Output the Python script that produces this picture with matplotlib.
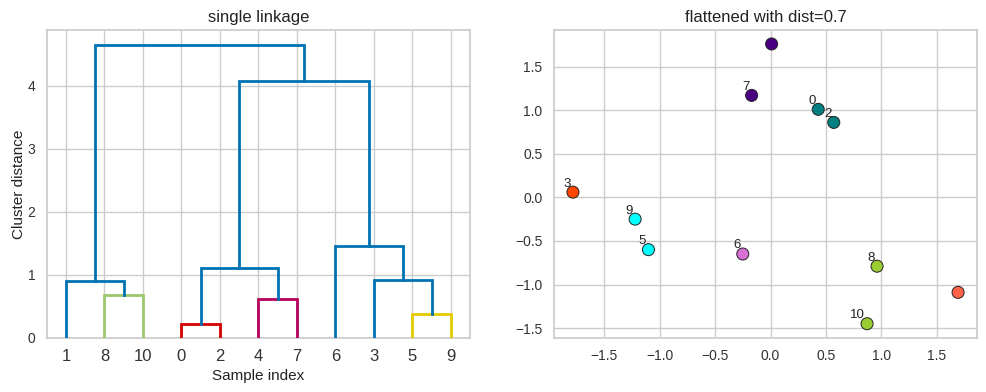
import matplotlib
matplotlib.use("Agg")
import matplotlib.pyplot as plt
import numpy as np

# ------------------------------------------------------------
# data
# ------------------------------------------------------------
# dendrogram leaf order (sample indices) and merges
leaf_labels = ["1", "8", "10", "0", "2", "4", "7", "6", "3", "5", "9"]
# each merge: (left child, right child, height, colour key)
# children: leaf position index (int) or previous merge id ("m<k>")
merges = [
    (1, 2, 0.68, "green"),       # m0: 8-10
    (0, "m0", 0.90, "blue"),     # m1: 1 + [8,10]
    (3, 4, 0.21, "red"),         # m2: 0-2
    (5, 6, 0.62, "magenta"),     # m3: 4-7
    ("m2", "m3", 1.10, "blue"),  # m4
    (9, 10, 0.38, "yellow"),     # m5: 5-9
    (8, "m5", 0.915, "blue"),    # m6: 3 + [5,9]
    (7, "m6", 1.45, "blue"),     # m7: 6 + ...
    ("m4", "m7", 4.08, "blue"),  # m8
    ("m1", "m8", 4.65, "blue"),  # m9
]
link_colors = {"blue": "#0072B2", "green": "#9CC86C", "red": "#D50000",
               "magenta": "#B5005B", "yellow": "#E2CC00"}

# scatter points (sample index -> x, y, colour)
pt_x = [0.43, 1.69, 0.57, -1.78, 0.01, -1.10, -0.25, -0.17, 0.96, -1.22, 0.87]
pt_y = [1.01, -1.09, 0.86, 0.06, 1.76, -0.60, -0.65, 1.17, -0.79, -0.25, -1.45]
pt_colors = ["teal", "tomato", "teal", "orangered", "indigo", "cyan",
             "orchid", "indigo", "yellowgreen", "cyan", "yellowgreen"]
shown_labels = [0, 2, 3, 5, 6, 7, 8, 9, 10]

# ------------------------------------------------------------
# style
# ------------------------------------------------------------
plt.rcParams["font.family"] = ["Liberation Sans", "DejaVu Sans"]
plt.rcParams["axes.edgecolor"] = "#cccccc"
plt.rcParams["axes.linewidth"] = 1.25
plt.rcParams["grid.color"] = "#cccccc"
plt.rcParams["xtick.color"] = "#333333"
plt.rcParams["ytick.color"] = "#333333"
plt.rcParams["text.color"] = "#222222"
plt.rcParams["axes.labelcolor"] = "#222222"

fig = plt.figure(figsize=(9.87, 3.92), dpi=100)
ax1 = fig.add_axes([0.0473, 0.1385, 0.4289, 0.785])
ax2 = fig.add_axes([0.561, 0.1385, 0.4292, 0.785])

# ------------------------------------------------------------
# dendrogram
# ------------------------------------------------------------
leaf_x = [5 + 10 * i for i in range(len(leaf_labels))]
nodes = {}  # merge id -> (x, height)


def node_pos(c):
    if isinstance(c, int):
        return leaf_x[c], 0.0
    return nodes[c]


for k, (a, b, h, ck) in enumerate(merges):
    xa, ya = node_pos(a)
    xb, yb = node_pos(b)
    ax1.plot([xa, xa, xb, xb], [ya, h, h, yb], color=link_colors[ck], lw=2,
             solid_joinstyle="miter", zorder=3)
    nodes["m%d" % k] = ((xa + xb) / 2, h)

ax1.set_xlim(0, 10 * len(leaf_labels))
ax1.set_ylim(0, merges[-1][2] * 1.05)
ax1.set_xticks(leaf_x)
ax1.set_xticklabels(leaf_labels, fontsize=12)
ax1.set_yticks([0, 1, 2, 3, 4])
ax1.tick_params(axis="y", labelsize=10, length=0, pad=8)
ax1.tick_params(axis="x", length=0, pad=8)
ax1.grid(True, lw=1)
ax1.set_axisbelow(True)
ax1.set_title("single linkage", fontsize=12)
ax1.set_xlabel("Sample index", fontsize=11, labelpad=4)
ax1.set_ylabel("Cluster distance", fontsize=11, labelpad=1)

# ------------------------------------------------------------
# scatter
# ------------------------------------------------------------
ax2.scatter(pt_x, pt_y, c=pt_colors, s=75, edgecolors="#222222",
            linewidths=0.7, zorder=3)
for i in shown_labels:
    ax2.text(pt_x[i] - 0.02, pt_y[i] + 0.03, str(i), fontsize=9.5,
             ha="right", va="bottom", zorder=4)
ax2.set_xticks([-1.5, -1.0, -0.5, 0.0, 0.5, 1.0, 1.5])
ax2.set_yticks([-1.5, -1.0, -0.5, 0.0, 0.5, 1.0, 1.5])
ax2.tick_params(labelsize=10, length=0, pad=8)
ax2.grid(True, lw=1)
ax2.set_axisbelow(True)
ax2.set_title("flattened with dist=0.7", fontsize=12)

plt.savefig("out.png", dpi=100)
